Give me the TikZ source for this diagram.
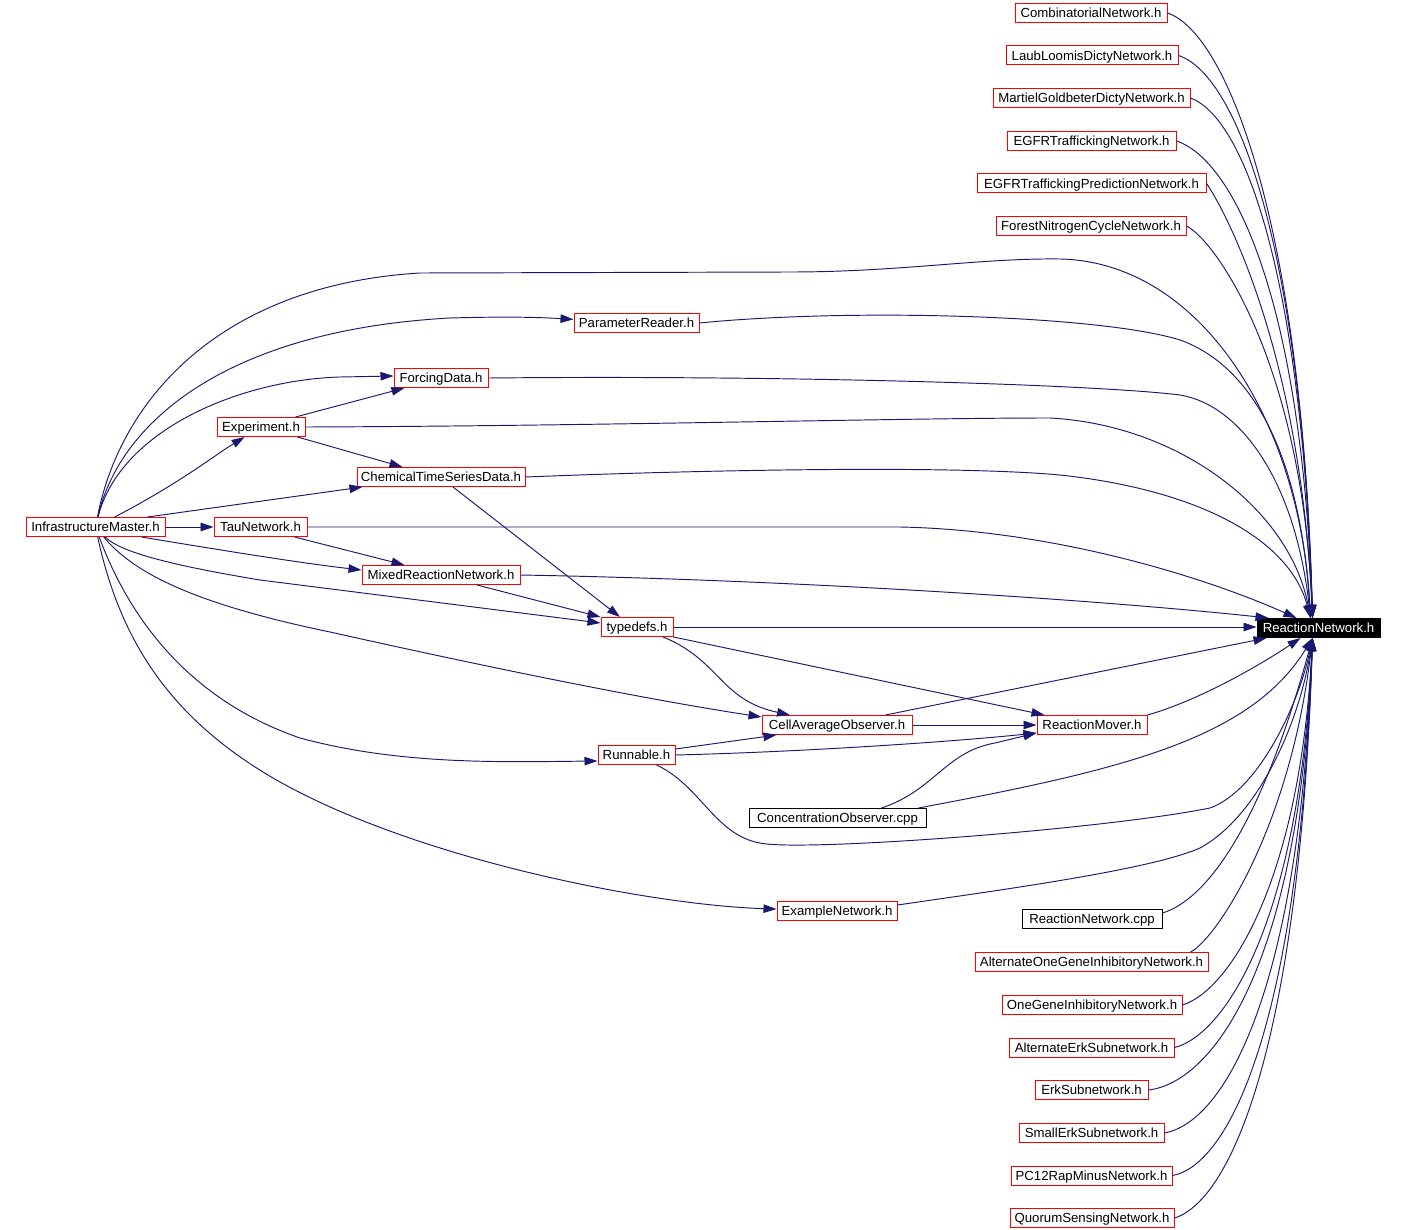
\documentclass[tikz,border=0pt]{standalone}
\usepackage{fontspec}
\setmainfont{Liberation Sans}
\usetikzlibrary{arrows.meta}
\definecolor{edgec}{HTML}{191970}
\begin{document}
\begin{tikzpicture}[x=1pt,y=-1pt,
  every node/.style={font=\fontsize{13.2}{15}\selectfont, text height=9.8pt, text depth=0pt},
  hbox/.style={draw=red, line width=1pt, minimum height=19pt, inner sep=0pt, fill=white, text=black},
  fbox/.style={draw=black, line width=1pt, minimum height=19pt, inner sep=0pt, fill=white, text=black},
  rootbox/.style={draw=black, fill=black, text=white, line width=1pt, minimum height=19pt, inner sep=0pt},
  edge/.style={draw=edgec, line width=0.95pt, -{Triangle[length=13pt,width=8.5pt]}}
]
\useasboundingbox (0,0) rectangle (1404,1230);
\fill[white] (0,0) rectangle (1404,1230);

\node[hbox,minimum width=152pt] (comb) at (1091,13) {CombinatorialNetwork.h};
\node[hbox,minimum width=172pt] (laub) at (1092,55.5) {LaubLoomisDictyNetwork.h};
\node[hbox,minimum width=197pt] (mart) at (1091.5,98) {MartielGoldbeterDictyNetwork.h};
\node[hbox,minimum width=169pt] (egfr) at (1091.5,141) {EGFRTraffickingNetwork.h};
\node[hbox,minimum width=229pt] (egfrp) at (1091.5,183.5) {EGFRTraffickingPredictionNetwork.h};
\node[hbox,minimum width=190pt] (forest) at (1091,226) {ForestNitrogenCycleNetwork.h};
\node[hbox,minimum width=125pt] (pr) at (636.5,323) {ParameterReader.h};
\node[hbox,minimum width=94pt] (fd) at (441,378) {ForcingData.h};
\node[hbox,minimum width=88pt] (exp) at (261,427) {Experiment.h};
\node[hbox,minimum width=168pt] (cts) at (441,477) {ChemicalTimeSeriesData.h};
\node[hbox,minimum width=139pt] (im) at (95.5,527) {InfrastructureMaster.h};
\node[hbox,minimum width=93pt] (tau) at (260.5,527) {TauNetwork.h};
\node[hbox,minimum width=158pt] (mixed) at (441,575) {MixedReactionNetwork.h};
\node[hbox,minimum width=72pt] (td) at (637,627) {typedefs.h};
\node[rootbox,minimum width=123pt] (rn) at (1318.5,628) {ReactionNetwork.h};
\node[hbox,minimum width=150pt] (cao) at (837,725) {CellAverageObserver.h};
\node[hbox,minimum width=110pt] (rm) at (1092,725) {ReactionMover.h};
\node[hbox,minimum width=77pt] (run) at (636.5,755) {Runnable.h};
\node[fbox,minimum width=177pt] (co) at (837.5,818) {ConcentrationObserver.cpp};
\node[hbox,minimum width=120pt] (ex) at (837,911) {ExampleNetwork.h};
\node[fbox,minimum width=140pt] (rncpp) at (1092,919) {ReactionNetwork.cpp};
\node[hbox,minimum width=233pt] (aog) at (1091.5,962) {AlternateOneGeneInhibitoryNetwork.h};
\node[hbox,minimum width=180pt] (og) at (1092,1005) {OneGeneInhibitoryNetwork.h};
\node[hbox,minimum width=165pt] (aes) at (1091.5,1047.5) {AlternateErkSubnetwork.h};
\node[hbox,minimum width=113pt] (es) at (1091.5,1090) {ErkSubnetwork.h};
\node[hbox,minimum width=145pt] (ses) at (1091.5,1133) {SmallErkSubnetwork.h};
\node[hbox,minimum width=161pt] (pc12) at (1091.5,1175.5) {PC12RapMinusNetwork.h};
\node[hbox,minimum width=164pt] (qs) at (1092,1218) {QuorumSensingNetwork.h};

% top column into root
\draw[edge] (comb.east) .. controls (1227,33) and (1302,224) .. ([xshift=-6pt]rn.north);
\draw[edge] (laub.east) .. controls (1238,75) and (1302,251) .. ([xshift=-6pt]rn.north);
\draw[edge] (mart.east) .. controls (1245,118) and (1302,279) .. ([xshift=-6pt]rn.north);
\draw[edge] (egfr.east) .. controls (1236,161) and (1302,307) .. ([xshift=-6pt]rn.north);
\draw[edge] (egfrp.east) .. controls (1225,210) and (1300,350) .. ([xshift=-6pt]rn.north);
\draw[edge] (forest.east) .. controls (1215,240) and (1302,362) .. ([xshift=-6pt]rn.north);

% InfrastructureMaster fan
\draw[edge] (im) .. controls (120,400) and (220,285) .. (420,273) -- (790,272) .. controls (900,272) and (980,258) .. (1060,259) .. controls (1200,262) and (1300,420) .. ([xshift=-8pt]rn.north);
\draw[edge] (im) .. controls (120,420) and (230,330) .. (450,318) .. controls (520,316) and (550,318) .. (pr);
\draw[edge] (im) .. controls (120,430) and (240,380) .. (340,377) -- ([yshift=2pt]fd.west);
\draw[edge] (im) .. controls (180,483) and (215,455) .. (exp);
\draw[edge] ([xshift=-18pt]im.north east) -- ([xshift=6pt]cts.south west);
\draw[edge] (im) -- (tau);
\draw[edge] ([xshift=-24pt]im.south east) .. controls (220,550) and (300,563) .. ([yshift=5pt]mixed.west);
\draw[edge] (im) .. controls (120,552) and (170,565) .. (260,580) -- ([yshift=4pt]td.west);
\draw[edge] (im) .. controls (135,575) and (200,605) .. (330,632) .. controls (500,670) and (650,700) .. ([yshift=-2pt]cao.north west);
\draw[edge] (im) .. controls (130,620) and (190,700) .. (300,738) .. controls (400,765) and (500,762) .. ([yshift=-6pt]run.west);
\draw[edge] (im) .. controls (120,640) and (170,720) .. (280,782) .. controls (420,860) and (650,905) .. (ex);

% middle
\draw[edge] ([xshift=-10pt]exp.north east) -- ([xshift=11pt]fd.south west);
\draw[edge] ([xshift=-8pt]exp.south east) -- ([xshift=46pt]cts.north west);
\draw[edge] (exp.east) .. controls (600,426) and (900,418) .. (1050,418) .. controls (1180,425) and (1290,510) .. ([xshift=-8pt]rn.north);
\draw[edge] (pr.east) .. controls (850,308) and (1100,315) .. (1180,340) .. controls (1250,365) and (1300,450) .. ([xshift=-8pt]rn.north);
\draw[edge] (fd.east) .. controls (800,375) and (1100,385) .. (1180,395) .. controls (1240,405) and (1295,480) .. ([xshift=-8pt]rn.north);
\draw[edge] (cts.east) .. controls (700,470) and (950,465) .. (1060,475) .. controls (1200,490) and (1290,540) .. ([xshift=-8pt]rn.north);
\draw[edge] ([xshift=12pt]cts.south) -- ([xshift=-17pt]td.north);
\draw[edge] (tau) -- (900,527) .. controls (1050,530) and (1200,575) .. ([xshift=-22pt]rn.north);
\draw[edge] ([xshift=-13pt]tau.south east) -- ([xshift=43pt]mixed.north west);
\draw[edge] (mixed.east) .. controls (800,580) and (1100,600) .. ([xshift=12pt]rn.north west);
\draw[edge] ([xshift=36pt]mixed.south) -- (td.north west);
\draw[edge] (td.east) -- (td.east -| rn.west);
\draw[edge] ([xshift=26pt]td.south) .. controls (720,660) and (720,700) .. ([xshift=-47pt]cao.north);
\draw[edge] (td.south east) -- ([xshift=8pt]rm.north west);
\draw[edge] (cao) -- (rm);
\draw[edge] ([xshift=-27pt]cao.north east) -- ([xshift=10pt]rn.south west);
\draw[edge] (rm.north east) .. controls (1200,700) and (1260,665) .. ([xshift=-18pt]rn.south);
\draw[edge] ([yshift=6pt]run.east) -- ([xshift=15pt]cao.south west);
\draw[edge] (run.east) .. controls (800,752) and (950,742) .. ([yshift=-8pt]rm.west);
\draw[edge] ([xshift=20pt]run.south) .. controls (700,785) and (715,835) .. (760,843) .. controls (800,852) and (1100,830) .. (1210,808) .. controls (1260,790) and (1300,700) .. ([xshift=-6pt]rn.south);
\draw[edge] ([xshift=44pt]co.north) .. controls (935,790) and (945,752) .. (995,743) -- ([yshift=-8pt]rm.west);
\draw[edge] ([xshift=-8pt]co.north east) .. controls (1120,770) and (1250,740) .. ([xshift=-6pt]rn.south);
\draw[edge] ([yshift=6pt]ex.east) .. controls (1000,890) and (1150,870) .. (1200,848) .. controls (1260,815) and (1300,720) .. ([xshift=-6pt]rn.south);
\draw[edge] ([yshift=6pt]rncpp.east) .. controls (1205,900) and (1260,830) .. ([xshift=-6pt]rn.south);

% bottom column into root
\draw[edge] ([xshift=-18pt]aog.north east) .. controls (1215,940) and (1290,830) .. ([xshift=-6pt]rn.south);
\draw[edge] (og.east) .. controls (1230,990) and (1300,880) .. ([xshift=-6pt]rn.south);
\draw[edge] (aes.east) .. controls (1225,1035) and (1300,920) .. ([xshift=-6pt]rn.south);
\draw[edge] (es.east) .. controls (1215,1082) and (1300,960) .. ([xshift=-6pt]rn.south);
\draw[edge] (ses.east) .. controls (1225,1122) and (1300,990) .. ([xshift=-6pt]rn.south);
\draw[edge] (pc12.east) .. controls (1230,1165) and (1300,1020) .. ([xshift=-6pt]rn.south);
\draw[edge] (qs.east) .. controls (1232,1200) and (1300,1040) .. ([xshift=-6pt]rn.south);
\end{tikzpicture}
\end{document}
